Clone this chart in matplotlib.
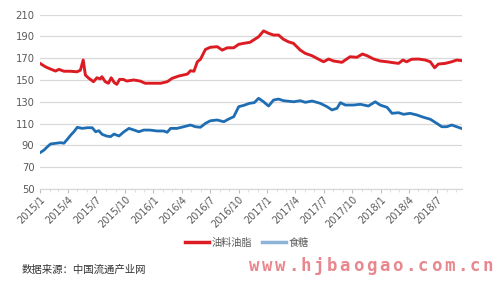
import matplotlib
matplotlib.use("Agg")
import matplotlib.pyplot as plt
import matplotlib.dates as mdates
from matplotlib.lines import Line2D
import pandas as pd

# 油料油脂 / 食糖 价格指数 (2015/1 - 2018/9), 近似值
oil_dates = [
    "2015-01-01", "2015-01-19", "2015-02-04", "2015-02-20", "2015-03-03", "2015-03-19",
    "2015-04-09", "2015-04-30", "2015-05-11", "2015-05-20", "2015-05-27", "2015-06-06",
    "2015-06-22", "2015-07-03", "2015-07-14", "2015-07-19", "2015-07-30", "2015-08-09",
    "2015-08-18", "2015-08-28", "2015-09-05", "2015-09-14", "2015-09-26", "2015-10-07",
    "2015-10-29", "2015-11-19", "2015-12-05", "2015-12-21", "2016-01-24", "2016-02-14",
    "2016-03-01", "2016-03-22", "2016-04-19", "2016-04-29", "2016-05-10", "2016-05-21",
    "2016-05-31", "2016-06-16", "2016-07-02", "2016-07-24", "2016-08-09", "2016-08-25",
    "2016-09-15", "2016-10-01", "2016-10-17", "2016-11-06", "2016-12-04", "2016-12-20",
    "2017-01-05", "2017-01-21", "2017-02-06", "2017-02-22", "2017-03-10", "2017-03-26",
    "2017-04-17", "2017-05-03", "2017-05-25", "2017-06-15", "2017-07-01", "2017-07-17",
    "2017-08-02", "2017-08-29", "2017-09-24", "2017-10-16", "2017-11-03", "2017-11-18",
    "2017-12-09", "2017-12-30", "2018-01-21", "2018-02-11", "2018-02-27", "2018-03-13",
    "2018-03-25", "2018-04-10", "2018-05-02", "2018-05-24", "2018-06-09", "2018-06-23",
    "2018-07-05", "2018-07-27", "2018-08-17", "2018-09-02", "2018-09-20",
]
oil_vals = [
    165.2, 162.0, 160.0, 158.2, 159.7, 158.0,
    158.0, 157.5, 159.0, 168.3, 154.5, 151.8,
    148.4, 152.0, 151.0, 153.0, 148.4, 147.0,
    152.0, 147.5, 146.0, 150.5, 150.5, 149.0,
    150.0, 149.0, 147.0, 147.0, 147.0, 148.4,
    151.5, 153.6, 155.4, 158.5, 158.0, 166.7,
    169.0, 178.0, 180.0, 180.5, 177.4, 179.5,
    179.5, 182.7, 183.6, 184.5, 189.6, 195.0,
    192.8, 191.2, 191.2, 187.3, 185.0, 183.6,
    177.4, 174.4, 172.2, 169.0, 166.7, 169.2,
    167.4, 166.2, 171.3, 170.8, 173.8, 172.2,
    169.2, 167.4, 166.7, 165.8, 165.2, 168.3,
    166.7, 169.0, 169.2, 168.3, 166.7, 161.2,
    164.6, 165.2, 166.7, 168.3, 167.7,
]

sugar_dates = [
    "2015-01-01", "2015-01-14", "2015-01-25", "2015-02-04", "2015-02-20", "2015-03-08",
    "2015-03-19", "2015-03-30", "2015-04-10", "2015-04-20", "2015-05-01", "2015-05-17",
    "2015-06-02", "2015-06-18", "2015-06-29", "2015-07-09", "2015-07-20", "2015-08-03",
    "2015-08-16", "2015-08-27", "2015-09-12", "2015-09-28", "2015-10-14", "2015-10-30",
    "2015-11-15", "2015-12-01", "2015-12-22", "2016-01-13", "2016-02-03", "2016-02-14",
    "2016-02-25", "2016-03-17", "2016-04-07", "2016-04-29", "2016-05-15", "2016-05-31",
    "2016-06-16", "2016-07-02", "2016-07-24", "2016-08-14", "2016-08-30", "2016-09-15",
    "2016-10-01", "2016-10-17", "2016-11-05", "2016-11-20", "2016-12-04", "2016-12-20",
    "2017-01-05", "2017-01-21", "2017-02-06", "2017-02-22", "2017-03-27", "2017-04-17",
    "2017-05-03", "2017-05-25", "2017-06-20", "2017-07-12", "2017-07-28", "2017-08-13",
    "2017-08-24", "2017-09-09", "2017-10-05", "2017-10-27", "2017-11-22", "2017-12-14",
    "2017-12-30", "2018-01-21", "2018-02-06", "2018-02-27", "2018-03-15", "2018-04-05",
    "2018-04-27", "2018-05-18", "2018-06-09", "2018-06-30", "2018-07-16", "2018-08-01",
    "2018-08-17", "2018-09-02", "2018-09-20",
]
sugar_vals = [
    83.3, 85.7, 88.8, 91.3, 91.9, 92.5,
    92.0, 95.6, 99.5, 102.5, 106.6, 105.6,
    106.2, 106.2, 102.5, 103.5, 100.1, 98.6,
    98.0, 100.4, 98.6, 102.5, 105.6, 104.1,
    102.5, 104.1, 104.0, 103.2, 103.2, 102.0,
    105.6, 105.6, 107.1, 108.7, 107.1, 106.6,
    110.2, 112.6, 113.3, 111.7, 114.2, 116.3,
    125.5, 126.7, 128.6, 129.2, 133.2, 130.0,
    126.1, 131.6, 132.5, 131.0, 130.0, 131.0,
    129.5, 130.7, 128.6, 125.5, 122.5, 124.0,
    129.2, 127.0, 127.0, 127.7, 126.1, 130.0,
    127.0, 124.9, 119.4, 120.0, 118.5, 119.4,
    117.9, 115.8, 114.0, 110.2, 107.1, 107.1,
    108.7, 107.1, 105.3,
]

series_names = ["油料油脂", "食糖"]
yticks = [50, 70, 90, 110, 130, 150, 170, 190, 210]

RED = "#dc1c22"
BLUE = "#1f6db2"
BLUE_LEG = "#8db3d7"
GRID = "#d9d9d9"
TXT = "#595959"
CJK = ["Noto Sans CJK SC", "DejaVu Sans"]

fig = plt.figure(figsize=(4.98, 2.91), dpi=100)
ax = fig.add_axes([0.0803, 0.3505, 0.848, 0.5995])

ax.plot(pd.to_datetime(oil_dates), oil_vals, color=RED, lw=2.1, solid_joinstyle="round")
ax.plot(pd.to_datetime(sugar_dates), sugar_vals, color=BLUE, lw=2.0, solid_joinstyle="round")

ax.set_ylim(50, 210)
ax.set_yticks(yticks)
ax.set_xlim(pd.Timestamp(oil_dates[0]), pd.Timestamp(oil_dates[-1]))
ax.yaxis.grid(True, color=GRID, lw=0.9)
ax.set_axisbelow(True)
for s in ["top", "right", "left"]:
    ax.spines[s].set_visible(False)
ax.spines["bottom"].set_color(GRID)
ax.spines["bottom"].set_linewidth(0.9)

ax.xaxis.set_major_locator(mdates.MonthLocator(bymonth=[1, 4, 7, 10]))
ax.xaxis.set_minor_locator(mdates.MonthLocator())
ax.xaxis.set_major_formatter(
    matplotlib.ticker.FuncFormatter(lambda v, p: f"{mdates.num2date(v).year}/{mdates.num2date(v).month}"))
ax.tick_params(axis="y", length=0, labelsize=7.2, labelcolor=TXT, pad=4)
ax.tick_params(axis="x", which="major", length=3, color="#bfbfbf", labelsize=7, labelcolor=TXT, pad=1)
ax.tick_params(axis="x", which="minor", length=2, color="#d9d9d9")
for lab in ax.get_xticklabels():
    lab.set_rotation(45)
    lab.set_ha("right")
    lab.set_rotation_mode("anchor")

handles = [Line2D([], [], color=RED, lw=2.5), Line2D([], [], color=BLUE_LEG, lw=2.5)]
fig.legend(handles, series_names, loc="center", bbox_to_anchor=(0.495, 1 - 243 / 291),
           ncol=2, frameon=False, prop={"family": CJK, "size": 7.3}, labelcolor=TXT,
           handlelength=2.4, handletextpad=0.2, columnspacing=1.0)

fig.text(22 / 498, 1 - 270 / 291, "数据来源：中国流通产业网", family=CJK, fontsize=7.5,
         color="#333333", va="center", ha="left")

# 水印
mark = "www.hjbaogao.com.cn"
for i, ch in enumerate(mark):
    fig.text((254 + i * 13.0) / 498, 1 - 266 / 291, ch, family="DejaVu Sans Mono", fontweight="bold",
             fontsize=12.5, color="#e67a82", alpha=0.9, ha="center", va="center")

fig.savefig("out.png", dpi=100)
